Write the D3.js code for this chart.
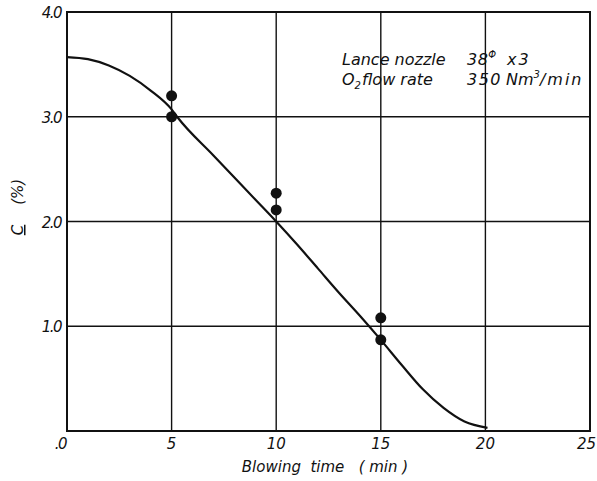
<!DOCTYPE html>
<html>
<head>
<meta charset="utf-8">
<script src="https://cdn.jsdelivr.net/npm/d3@7/dist/d3.min.js"></script>
<style>
  html, body { margin: 0; padding: 0; background: #fff; }
  svg { display: block; }
  text { font-family: "DejaVu Sans", "Liberation Sans", sans-serif; font-style: italic; fill: #111; }
</style>
</head>
<body>
<svg id="chart" width="597" height="481"></svg>
<script>
// Carbon content vs. blowing time
const xTicks = [0, 5, 10, 15, 20, 25];
const xTickLabels = ["", "5", "10", "15", "20", "25"];
const yTicks = [0, 1, 2, 3, 4];
const yTickLabels = [".0", "1.0", "2.0", "3.0", "4.0"];

// measured points
const pointTime = [5, 5, 10, 10, 15, 15];
const pointC = [3.2, 3.0, 2.27, 2.11, 1.08, 0.87];

// smoothed decarburization curve
const curveTime = [0, 1, 2, 3, 4, 5, 5.3, 7, 9, 10, 11, 12, 13, 14, 15, 16, 17, 18, 19, 20.1];
const curveC = [3.57, 3.55, 3.49, 3.39, 3.25, 3.07, 2.99, 2.63, 2.21, 2.0, 1.78, 1.55, 1.32, 1.1, 0.87, 0.63, 0.4, 0.22, 0.09, 0.03];

const svg = d3.select("#chart");
const plotLeft = 67, plotRight = 590, plotTop = 12, plotBottom = 431;

const x = d3.scaleLinear().domain([0, 25]).range([plotLeft, plotRight]);
const y = d3.scaleLinear().domain([0, 4]).range([plotBottom, plotTop]);

// grid lines
const grid = svg.append("g").attr("stroke", "#111").attr("stroke-width", 1.4);
grid.selectAll("line.v").data(xTicks.slice(1, -1)).join("line")
  .attr("x1", d => x(d)).attr("x2", d => x(d))
  .attr("y1", y(4)).attr("y2", y(0));
grid.selectAll("line.h").data(yTicks.slice(1, -1)).join("line")
  .attr("x1", x(0)).attr("x2", x(25))
  .attr("y1", d => y(d)).attr("y2", d => y(d));

// frame
svg.append("rect")
  .attr("x", x(0)).attr("y", y(4))
  .attr("width", x(25) - x(0)).attr("height", y(0) - y(4))
  .attr("fill", "none").attr("stroke", "#111").attr("stroke-width", 2);

// tick labels (the last one is pulled in so it stays on the page)
svg.append("g").selectAll("text").data(xTicks).join("text")
  .attr("x", d => d === 25 ? 596 : x(d))
  .attr("y", 449)
  .attr("text-anchor", d => d === 25 ? "end" : "middle")
  .attr("font-size", 15)
  .text((d, i) => xTickLabels[i]);

svg.append("g").selectAll("text").data(yTicks).join("text")
  .attr("x", d => d === 0 ? 66 : 61)
  .attr("y", d => d === 0 ? 449 : y(d) + 6)
  .attr("text-anchor", "end").attr("font-size", 15)
  .attr("letter-spacing", -1.5)
  .text((d, i) => yTickLabels[i]);

// axis titles
svg.append("text")
  .attr("x", 325).attr("y", 472)
  .attr("text-anchor", "middle").attr("font-size", 15)
  .attr("xml:space", "preserve")
  .text("Blowing  time   ( min )");

const yTitle = svg.append("text")
  .attr("transform", "translate(23,207) rotate(-90)")
  .attr("text-anchor", "middle").attr("font-size", 15);
yTitle.append("tspan").attr("text-decoration", "underline").text("C");
yTitle.append("tspan").attr("dx", 20).text("(%)");

// curve
const line = d3.line()
  .x((d, i) => x(curveTime[i]))
  .y(d => y(d))
  .curve(d3.curveMonotoneX);
svg.append("path")
  .datum(curveC)
  .attr("d", line)
  .attr("fill", "none").attr("stroke", "#111").attr("stroke-width", 2.2);

// points
svg.append("g").selectAll("circle").data(pointC).join("circle")
  .attr("cx", (d, i) => x(pointTime[i]))
  .attr("cy", d => y(d))
  .attr("r", 5.5).attr("fill", "#111");

// annotation: operating conditions
const note = svg.append("g").attr("font-size", 16);
note.append("text").attr("x", 342).attr("y", 65).text("Lance nozzle");
const n1 = note.append("text").attr("x", 467).attr("y", 65);
n1.append("tspan").attr("letter-spacing", 0.5).text("38");
n1.append("tspan").attr("font-size", 10).attr("dy", -7).text("\u03A6");
n1.append("tspan").attr("x", 507).attr("dy", 7).attr("letter-spacing", 2).text("x3");

const n2 = note.append("text").attr("x", 342).attr("y", 85);
n2.append("tspan").text("O");
n2.append("tspan").attr("font-size", 10).attr("dy", 4).text("2");
n2.append("tspan").attr("x", 362).attr("dy", -4).text("flow rate");
const n3 = note.append("text").attr("x", 467).attr("y", 85);
n3.append("tspan").attr("letter-spacing", 1.5).text("350");
n3.append("tspan").attr("x", 506).text("Nm");
n3.append("tspan").attr("font-size", 10).attr("dy", -7).text("3");
n3.append("tspan").attr("dy", 7).attr("letter-spacing", 2).text("/min");
</script>
</body>
</html>
